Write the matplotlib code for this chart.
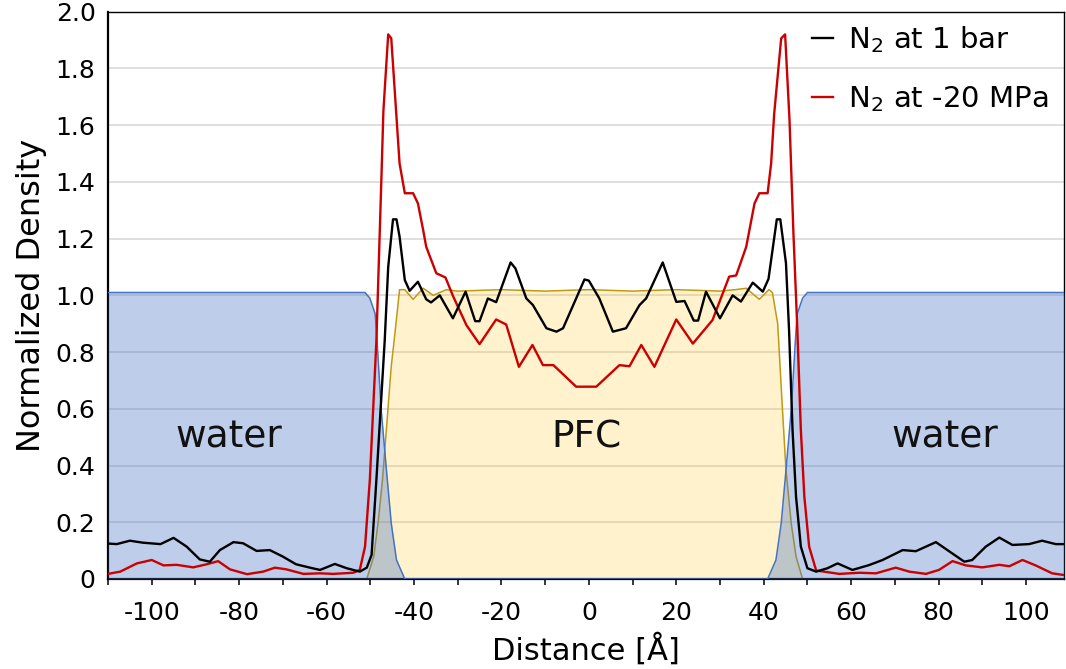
import numpy as np
import matplotlib
matplotlib.use('Agg')
import matplotlib.pyplot as plt

plt.rcParams['font.family'] = ['DejaVu Sans']
plt.rcParams['axes.unicode_minus'] = False

# N2 at 1 bar (black)
black_x = [-110, -108, -105, -102, -98, -95, -92, -89, -86.7, -84.4, -81.3, -79.1, -76, -73, -70,
           -67, -63.8, -61.5, -58.1, -55.4, -52.4, -50.8, -49.7, -48.6, -46.7, -45.9, -44.8, -44.0,
           -43.3, -42.1, -41.0, -39.1, -37.2, -36.1, -34.1, -31.1, -28.2, -26.0, -25.0, -23.1, -21.2,
           -17.9, -16.8, -14.3, -12.8, -9.7, -7.4, -5.9, -1.0, 0.0, 2.4, 5.5, 7.0, 8.5, 11.6, 13.1,
           16.9, 20.0, 21.9, 24.0, 25.0, 26.8, 30.0, 32.9, 34.8, 37.5, 39.8, 41.1, 43.0, 43.8, 45.1,
           45.8, 46.6, 47.4, 48.5, 50.0, 52.0, 54.6, 56.9, 60.3, 64.1, 67.2, 71.8, 74.8, 79.4, 82.4,
           85.9, 87.7, 90.8, 93.9, 96.9, 100.7, 103.7, 106.8, 108.7]
black_y = [0.125, 0.123, 0.135, 0.128, 0.123, 0.145, 0.114, 0.069, 0.061, 0.102, 0.130, 0.126, 0.099,
           0.102, 0.079, 0.052, 0.040, 0.032, 0.053, 0.038, 0.026, 0.040, 0.085, 0.35, 0.84, 1.10,
           1.268, 1.268, 1.207, 1.054, 1.016, 1.048, 0.986, 0.975, 1.0, 0.919, 1.013, 0.909, 0.909,
           0.989, 0.976, 1.116, 1.095, 0.989, 0.966, 0.884, 0.872, 0.884, 1.056, 1.052, 0.989, 0.872,
           0.878, 0.884, 0.966, 0.989, 1.116, 0.977, 0.98, 0.911, 0.911, 1.013, 0.919, 1.0, 0.978,
           1.045, 1.013, 1.058, 1.268, 1.268, 1.113, 0.878, 0.525, 0.29, 0.114, 0.038, 0.026, 0.038,
           0.055, 0.032, 0.049, 0.067, 0.102, 0.098, 0.130, 0.098, 0.061, 0.067, 0.114, 0.146, 0.12,
           0.123, 0.135, 0.123, 0.123]

# N2 at -20 MPa (red)
red_x = [-110, -107.2, -103.4, -100, -97.3, -94.3, -90.5, -87.4, -84.8, -82.1, -78.2, -74.5, -71.8,
         -69.2, -65.3, -61.5, -58.5, -53.9, -52.4, -51.2, -50.1, -48.6, -47.4, -47.0, -45.9, -45.2,
         -43.3, -42.1, -40.2, -39.1, -37.9, -37.2, -34.9, -32.8, -31.0, -28.0, -25.0, -21.2, -18.9,
         -16.0, -12.9, -10.5, -8.1, -2.9, 1.7, 7.0, 9.3, 12.0, 15.0, 20.0, 23.8, 28.3, 32.1, 33.7,
         36.0, 37.9, 39.0, 40.9, 41.7, 42.4, 44.0, 44.9, 45.9, 46.8, 47.7, 48.5, 49.3, 50.4, 52.0,
         57.3, 61.9, 65.7, 70.2, 73.3, 77.1, 80.1, 83.2, 86.2, 90.0, 93.9, 96.2, 99.2, 102.2, 106.0,
         108.7]
red_y = [0.018, 0.026, 0.055, 0.067, 0.048, 0.05, 0.041, 0.052, 0.063, 0.034, 0.017, 0.026, 0.04,
         0.034, 0.018, 0.02, 0.018, 0.022, 0.032, 0.114, 0.35, 0.84, 1.44, 1.65, 1.92, 1.906, 1.465,
         1.36, 1.36, 1.324, 1.23, 1.171, 1.078, 1.063, 0.995, 0.895, 0.828, 0.915, 0.897, 0.748,
         0.825, 0.754, 0.754, 0.678, 0.678, 0.754, 0.75, 0.825, 0.748, 0.915, 0.83, 0.913, 1.066,
         1.07, 1.171, 1.324, 1.36, 1.36, 1.465, 1.64, 1.906, 1.92, 1.62, 1.22, 0.878, 0.525, 0.29,
         0.114, 0.03, 0.018, 0.022, 0.02, 0.04, 0.026, 0.018, 0.032, 0.063, 0.048, 0.041, 0.05,
         0.045, 0.067, 0.048, 0.02, 0.014]

# water density profile (blue area)
water_x = [-110, -51.2, -50.1, -48.9, -48.6, -47.5, -46.3, -45.2, -44.0, -42.1,
           40.9, 42.8, 44.0, 45.1, 46.3, 47.4, 47.7, 48.9, 50.0, 108.7]
water_y = [1.01, 1.01, 0.99, 0.936, 0.878, 0.596, 0.384, 0.196, 0.067, 0.0,
           0.0, 0.067, 0.196, 0.384, 0.596, 0.878, 0.936, 0.99, 1.01, 1.01]

# PFC density profile (yellow area)
pfc_x = [-110, -50.8, -49.2, -48.2, -47.2, -46.2, -45.2, -44.4, -43.3, -42.1, -40.2, -37.9, -35.6,
         -32.6, -30, -20, -10, 0, 10, 20, 30, 33.5, 36.0, 39.0, 41.2, 42.0, 43.2, 44.3, 45.1,
         46.3, 47.4, 48.9, 108.7]
pfc_y = [0.0, 0.0, 0.08, 0.2, 0.35, 0.55, 0.75, 0.86, 1.02, 1.02, 0.986, 1.025, 1.0, 1.02, 1.015,
         1.02, 1.015, 1.02, 1.015, 1.02, 1.015, 1.02, 1.025, 0.986, 1.02, 1.01, 0.9, 0.596, 0.384,
         0.196, 0.079, 0.0, 0.0]

x_ticks = [-100, -80, -60, -40, -20, 0, 20, 40, 60, 80, 100]
y_ticks = [0, 0.2, 0.4, 0.6, 0.8, 1.0, 1.2, 1.4, 1.6, 1.8, 2.0]
y_tick_labels = ['0', '0.2', '0.4', '0.6', '0.8', '1.0', '1.2', '1.4', '1.6', '1.8', '2.0']

fig = plt.figure(figsize=(10.66, 6.69), dpi=100)
ax = fig.add_axes([108/1066, 1-579/669, (1064-108)/1066, (579-11.7)/669])

ax.set_axisbelow(True)
ax.yaxis.grid(True, color='#d9d9d9', linewidth=1.2, zorder=0)

ax.fill_between(pfc_x, pfc_y, 0, color='#ffc000', alpha=0.2, linewidth=0, zorder=1)
ax.plot(pfc_x, pfc_y, color='#c09a10', linewidth=1.1, zorder=2)
ax.fill_between(water_x, water_y, 0, color='#4472c4', alpha=0.35, linewidth=0, zorder=3)
ax.plot(water_x, water_y, color='#4472c4', linewidth=1.1, zorder=4)

ax.plot(black_x, black_y, color='black', linewidth=1.7, zorder=6,
        label=r'N$_\mathregular{2}$ at 1 bar')
ax.plot(red_x, red_y, color='#cc0000', linewidth=1.7, zorder=5,
        label=r'N$_\mathregular{2}$ at -20 MPa')

ax.text(-82.3, 0.5, 'water', fontsize=27, ha='center', va='center', color='#111111', zorder=7)
ax.text(-0.5, 0.5, 'PFC', fontsize=27, ha='center', va='center', color='#111111', zorder=7)
ax.text(81.5, 0.5, 'water', fontsize=27, ha='center', va='center', color='#111111', zorder=7)

ax.set_xlim(-110, 108.7)
ax.set_ylim(0, 2.0)
ax.set_xticks(x_ticks)
ax.set_xticks(np.arange(-110, 109, 10), minor=True)
ax.set_yticks(y_ticks, y_tick_labels)

ax.tick_params(axis='x', which='both', direction='out', length=4.5, width=1.1,
               labelsize=18, pad=11)
ax.tick_params(axis='y', length=0, labelsize=18, pad=9)

for side in ['left', 'bottom']:
    ax.spines[side].set_linewidth(1.6)
for side in ['top', 'right']:
    ax.spines[side].set_linewidth(1.0)

ax.set_xlabel('Distance [Å]', fontsize=22, labelpad=6)
ax.set_ylabel('Normalized Density', fontsize=23, labelpad=6)

ax.legend(loc='upper left', bbox_to_anchor=(0.736, 0.978), frameon=False, fontsize=21,
          handlelength=0.75, handletextpad=0.5, labelspacing=1.0, borderpad=0,
          borderaxespad=0)

fig.savefig('out.png', dpi=100)
